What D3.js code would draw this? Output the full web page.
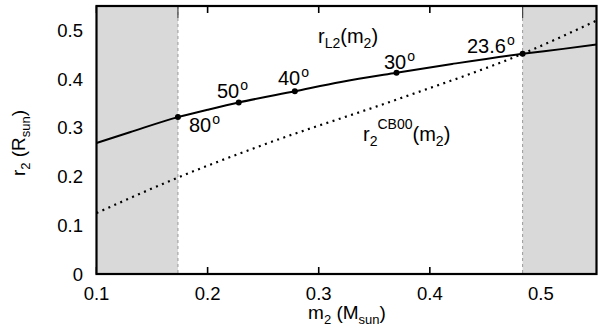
<!DOCTYPE html>
<html><head><meta charset="utf-8">
<script src="https://cdn.jsdelivr.net/npm/d3@7/dist/d3.min.js"></script>
<style>body{margin:0;background:#fff}svg{display:block;font-family:"Liberation Sans",Arial,sans-serif}</style>
</head><body><svg id="c" width="600" height="330"></svg>
<script>
// data
const xTicks = [0.1, 0.2, 0.3, 0.4, 0.5];
const yTicks = [0, 0.1, 0.2, 0.3, 0.4, 0.5];
const rL2M = [0.1, 0.13, 0.1733, 0.2, 0.228, 0.2785, 0.32, 0.37, 0.42, 0.4835, 0.52, 0.55];
const rL2V = [0.269, 0.291, 0.322, 0.337, 0.352, 0.375, 0.394, 0.413, 0.431, 0.452, 0.462, 0.471];
const cbM = [0.1, 0.1733, 0.25, 0.3727, 0.4835, 0.55];
const cbV = [0.125, 0.198, 0.265, 0.36, 0.452, 0.52];
const markM = [0.1733, 0.228, 0.2785, 0.37, 0.4835];
const markV = [0.322, 0.352, 0.375, 0.413, 0.452];
const markLab = ["80", "50", "40", "30", "23.6"];
const shadeL = [0.1, 0.1733];
const shadeR = [0.4835, 0.55];

const svg = d3.select("#c");
const x = d3.scaleLinear().domain([0.1, 0.55]).range([96.5, 596.5]);
const y = d3.scaleLinear().domain([0, 0.55]).range([274, 6]);
const X0 = x.range()[0], X1 = x.range()[1], Y0 = y.range()[0], Y1 = y.range()[1];

// ticks (inward, top and bottom, left and right)
const g = svg.append("g");
xTicks.forEach(t => {
  g.append("line").attr("x1", x(t)).attr("x2", x(t)).attr("y1", Y0).attr("y2", Y0 - 7).attr("stroke", "#000").attr("stroke-width", 1.6);
  g.append("line").attr("x1", x(t)).attr("x2", x(t)).attr("y1", Y1).attr("y2", Y1 + 7).attr("stroke", "#000").attr("stroke-width", 1.6);
});
yTicks.forEach(t => {
  g.append("line").attr("x1", X0).attr("x2", X0 + 7).attr("y1", y(t)).attr("y2", y(t)).attr("stroke", "#000").attr("stroke-width", 1.6);
  g.append("line").attr("x1", X1).attr("x2", X1 - 7).attr("y1", y(t)).attr("y2", y(t)).attr("stroke", "#000").attr("stroke-width", 1.6);
});

// shaded regions
[shadeL, shadeR].forEach(s => {
  svg.append("rect").attr("x", x(s[0])).attr("y", Y1).attr("width", x(s[1]) - x(s[0])).attr("height", Y0 - Y1).attr("fill", "#d9d9d9");
});
[shadeL[1], shadeR[0]].forEach(v => {
  svg.append("line").attr("x1", x(v)).attr("x2", x(v)).attr("y1", Y1).attr("y2", Y0).attr("stroke", "#999").attr("stroke-width", 1).attr("stroke-dasharray", "3,3");
  svg.append("line").attr("x1", x(v)).attr("x2", x(v)).attr("y1", Y1).attr("y2", Y1 + 12).attr("stroke", "#444").attr("stroke-width", 1.2);
});

// curves
const clip = svg.append("clipPath").attr("id", "cl").append("rect").attr("x", X0).attr("y", Y1).attr("width", X1 - X0).attr("height", Y0 - Y1);
const line = d3.line().x(d => x(d[0])).y(d => y(d[1])).curve(d3.curveMonotoneX);
svg.append("path").datum(cbM.map((m, i) => [m, cbV[i]])).attr("d", line).attr("fill", "none").attr("stroke", "#000").attr("stroke-width", 2.2).attr("stroke-dasharray", "2,4.5").attr("clip-path", "url(#cl)");
svg.append("path").datum(rL2M.map((m, i) => [m, rL2V[i]])).attr("d", line).attr("fill", "none").attr("stroke", "#000").attr("stroke-width", 2).attr("clip-path", "url(#cl)");

// markers
markM.forEach((m, i) => svg.append("circle").attr("cx", x(m)).attr("cy", y(markV[i])).attr("r", 3).attr("fill", "#000"));

// frame
svg.append("rect").attr("x", X0).attr("y", Y1).attr("width", X1 - X0).attr("height", Y0 - Y1).attr("fill", "none").attr("stroke", "#000").attr("stroke-width", 2.2);

// tick labels
const fs = 18.5;
xTicks.forEach(t => svg.append("text").attr("x", x(t)).attr("y", 300).attr("text-anchor", "middle").attr("font-size", fs).text(d3.format(".1f")(t)));
yTicks.forEach(t => svg.append("text").attr("x", 83).attr("y", y(t) + 6.5).attr("text-anchor", "end").attr("font-size", fs).text(t === 0 ? "0" : d3.format(".1f")(t)));

// marker labels
const labPos = [[189, 132], [217, 98], [278, 85], [384, 69], [467, 53]];
markLab.forEach((l, i) => {
  const t = svg.append("text").attr("x", labPos[i][0]).attr("y", labPos[i][1]).attr("font-size", 20);
  t.append("tspan").text(l);
  t.append("tspan").attr("font-size", 14).attr("dy", -8).attr("dx", 1).text("o");
});

// curve labels
const t1 = svg.append("text").attr("x", 318).attr("y", 43).attr("font-size", 20);
t1.append("tspan").text("r");
t1.append("tspan").attr("font-size", 14).attr("dy", 5).text("L2");
t1.append("tspan").attr("dy", -5).text("(m");
t1.append("tspan").attr("font-size", 14).attr("dy", 5).text("2");
t1.append("tspan").attr("dy", -5).text(")");

const t2 = svg.append("text").attr("x", 363).attr("y", 141).attr("font-size", 20);
t2.append("tspan").text("r");
t2.append("tspan").attr("font-size", 14).attr("dy", 5).text("2");
t2.append("tspan").attr("font-size", 14).attr("dy", -17).text("CB00");
t2.append("tspan").attr("dy", 12).text("(m");
t2.append("tspan").attr("font-size", 14).attr("dy", 5).text("2");
t2.append("tspan").attr("dy", -5).text(")");

// axis titles
const xt = svg.append("text").attr("x", 347).attr("y", 319).attr("text-anchor", "middle").attr("font-size", 19);
xt.append("tspan").text("m");
xt.append("tspan").attr("font-size", 13).attr("dy", 5).text("2");
xt.append("tspan").attr("dy", -5).text(" (M");
xt.append("tspan").attr("font-size", 13).attr("dy", 5).text("sun");
xt.append("tspan").attr("dy", -5).text(")");

const yt = svg.append("text").attr("transform", "translate(25,143) rotate(-90)").attr("text-anchor", "middle").attr("font-size", 19);
yt.append("tspan").text("r");
yt.append("tspan").attr("font-size", 13).attr("dy", 5).text("2");
yt.append("tspan").attr("dy", -5).text(" (R");
yt.append("tspan").attr("font-size", 13).attr("dy", 5).text("sun");
yt.append("tspan").attr("dy", -5).text(")");
</script></body></html>
